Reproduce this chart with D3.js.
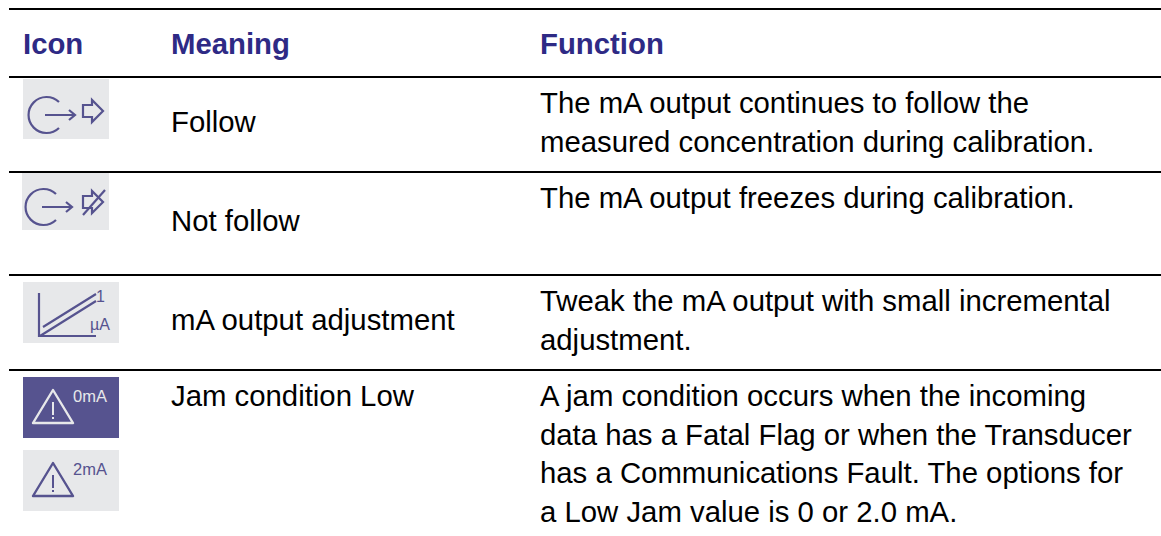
<!DOCTYPE html>
<html>
<head>
<meta charset="utf-8">
<script src="https://cdn.jsdelivr.net/npm/d3@7"></script>
<style>
  html, body { margin: 0; padding: 0; background: #fff; overflow: hidden; }
  text { font-family: "Liberation Sans", Arial, sans-serif; }
</style>
</head>
<body>
<div id="table"></div>
<script>
// Table content
const headers = ["Icon", "Meaning", "Function"];
const meanings = ["Follow", "Not follow", "mA output adjustment", "Jam condition Low"];
const functions = [
    ["The mA output continues to follow the", "measured concentration during calibration."],
    ["The mA output freezes during calibration."],
    ["Tweak the mA output with small incremental", "adjustment."],
    ["A jam condition occurs when the incoming", "data has a Fatal Flag or when the Transducer", "has a Communications Fault. The options for", "a Low Jam value is 0 or 2.0 mA."]
];
const icons = ["follow", "notFollow", "adjust", "jam"];

const rowRules = [9, 77, 172, 275, 370];
const meaningBaselines = [132, 231, 330, 406];
const functionBaselines = [113, 208, 311, 406];

const width = 1161, height = 536;
const fontSize = 29.33, lineStep = 38.5;
const purple = "#56538f", grey = "#e7e8ea", headColor = "#2e2a85";

const svg = d3.select("#table").append("svg")
    .attr("width", width)
    .attr("height", height)
    .style("display", "block");

// Horizontal rules
svg.selectAll(".rule")
    .data(rowRules)
    .enter()
    .append("line")
    .attr("class", "rule")
    .attr("x1", 9)
    .attr("x2", width)
    .attr("y1", d => d)
    .attr("y2", d => d)
    .attr("stroke", "#000")
    .attr("stroke-width", 2);

// Header
const headerX = [23, 171, 540];
svg.selectAll(".head")
    .data(headers)
    .enter()
    .append("text")
    .attr("class", "head")
    .attr("x", (d, i) => headerX[i])
    .attr("y", 54)
    .attr("font-size", fontSize)
    .attr("font-weight", "bold")
    .attr("fill", headColor)
    .text(d => d);

// Meaning column
svg.selectAll(".meaning")
    .data(meanings)
    .enter()
    .append("text")
    .attr("class", "meaning")
    .attr("x", 171)
    .attr("y", (d, i) => meaningBaselines[i])
    .attr("font-size", fontSize)
    .attr("fill", "#000")
    .text(d => d);

// Function column, one tspan per line
svg.selectAll(".fn")
    .data(functions)
    .enter()
    .append("text")
    .attr("class", "fn")
    .attr("font-size", fontSize)
    .attr("fill", "#000")
    .each(function(lines, i) {
        d3.select(this).selectAll("tspan")
            .data(lines)
            .enter()
            .append("tspan")
            .attr("x", 540)
            .attr("y", (l, j) => functionBaselines[i] + j * lineStep)
            .text(l => l);
    });

// Icons
function outArrow(g, cx, cy) {
    g.append("path")
        .attr("d", `M${cx + 12},${cy - 13} A18,18 0 1 0 ${cx + 12},${cy + 13} M${cx - 2},${cy} H${cx + 28} M${cx + 22},${cy - 5} L${cx + 28},${cy} L${cx + 22},${cy + 5}`)
        .attr("fill", "none")
        .attr("stroke", purple)
        .attr("stroke-width", 2.2);
}
function smallArrow(g, x, cy) {
    g.append("path")
        .attr("d", `M${x},${cy - 6} H${x + 9} V${cy - 11} L${x + 20},${cy} L${x + 9},${cy + 11} V${cy + 6} H${x} Z`)
        .attr("fill", "none")
        .attr("stroke", purple)
        .attr("stroke-width", 2.2);
}
function warning(g, color, label) {
    g.append("path")
        .attr("d", "M30,13 L50,46 H10 Z")
        .attr("fill", "none")
        .attr("stroke", color)
        .attr("stroke-linejoin", "round")
        .attr("stroke-width", 2.4);
    g.append("path")
        .attr("d", "M30,25 V38 M30,40 V42")
        .attr("stroke", color)
        .attr("stroke-width", 2);
    g.append("text")
        .attr("x", 50)
        .attr("y", 25)
        .attr("font-size", 16.5)
        .attr("fill", color)
        .text(label);
}

const iconDraw = {
    follow: g => {
        g.attr("transform", "translate(23,79)");
        g.append("rect").attr("width", 86).attr("height", 60).attr("fill", grey);
        outArrow(g, 24, 36);
        smallArrow(g, 60, 32);
    },
    notFollow: g => {
        g.attr("transform", "translate(22,173)");
        g.append("rect").attr("width", 87).attr("height", 57).attr("fill", grey);
        outArrow(g, 22, 34);
        smallArrow(g, 61, 29);
        g.append("path").attr("d", "M61,42 L83,17").attr("stroke", purple).attr("stroke-width", 2.2);
    },
    adjust: g => {
        g.attr("transform", "translate(23,282)");
        g.append("rect").attr("width", 96).attr("height", 61).attr("fill", grey);
        g.append("path")
            .attr("d", "M16,11 V54 H73 M17,54 L73,19 M20,45 L73,12")
            .attr("fill", "none")
            .attr("stroke", purple)
            .attr("stroke-width", 2.2);
        g.append("text").attr("x", 73).attr("y", 20).attr("font-size", 16).attr("fill", purple).text("1");
        g.append("text").attr("x", 67).attr("y", 48).attr("font-size", 16).attr("fill", purple).text("µA");
    },
    jam: g => {
        const a = g.append("g").attr("transform", "translate(23,377)");
        a.append("rect").attr("width", 96).attr("height", 61).attr("fill", purple);
        warning(a, "#e7e8ea", "0mA");
        const b = g.append("g").attr("transform", "translate(23,450)");
        b.append("rect").attr("width", 96).attr("height", 61).attr("fill", grey);
        warning(b, purple, "2mA");
    }
};

icons.forEach(name => svg.append("g").call(iconDraw[name]));
</script>
</body>
</html>
